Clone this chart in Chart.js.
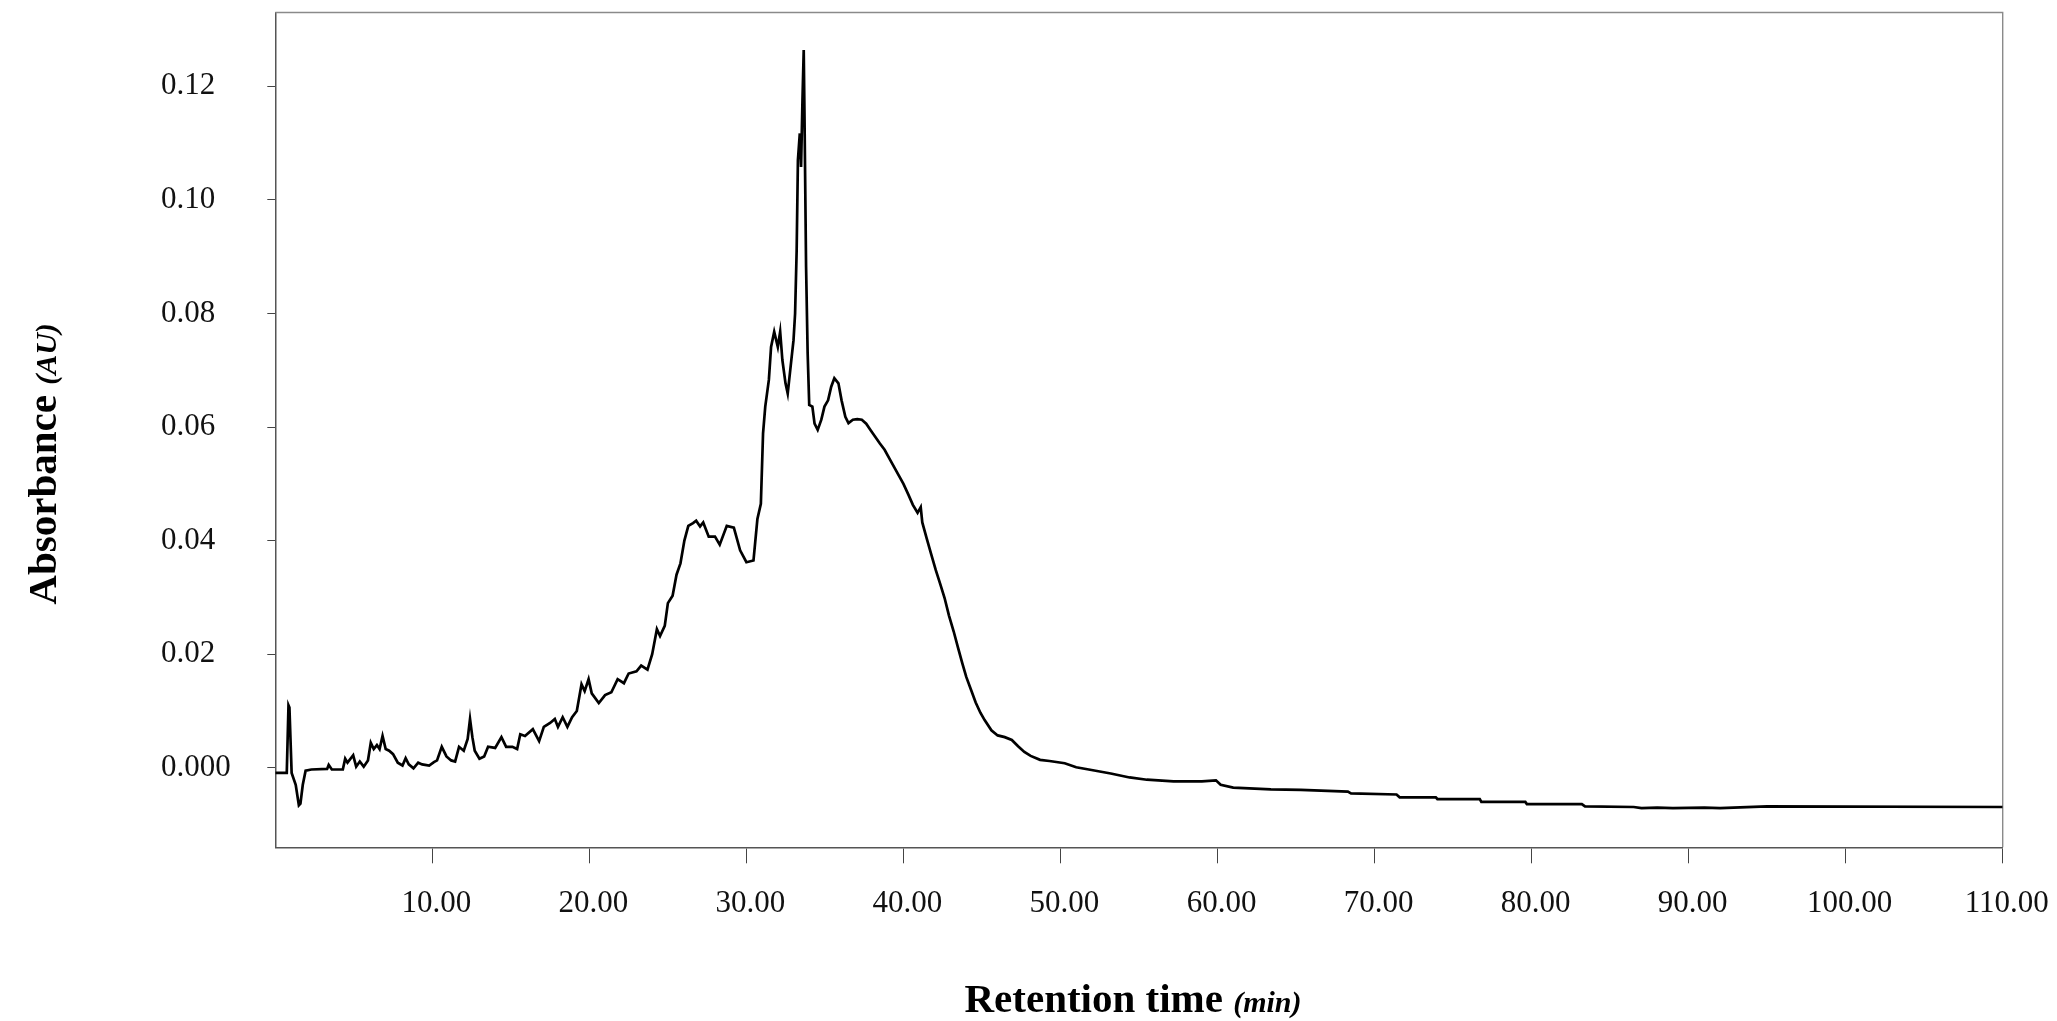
<!DOCTYPE html>
<html lang="en">
<head>
<meta charset="UTF-8">
<title>Absorbance vs retention time</title>
<script src="https://cdn.jsdelivr.net/npm/chart.js@4.4.1/dist/chart.umd.min.js"></script>
<style>
  html, body { margin: 0; padding: 0; background: #ffffff; }
  .chart-wrap { position: relative; width: 2057px; height: 1021px; }
</style>
</head>
<body>
<div class="chart-wrap"><canvas id="chromChart"></canvas></div>
<script>
// 크로마토그램 데이터
const retentionTimes = [
  0.0, 0.73, 0.84, 0.9, 1.04, 1.3, 1.5, 1.6, 1.75, 1.93,
  2.3, 3.3, 3.4, 3.6, 4.3, 4.45, 4.6, 4.96, 5.15, 5.38,
  5.63, 5.9, 6.08, 6.27, 6.47, 6.64, 6.83, 7.03, 7.25, 7.5,
  7.8, 8.1, 8.3, 8.5, 8.8, 9.1, 9.35, 9.8, 10.1, 10.3,
  10.6, 10.9, 11.2, 11.45, 11.7, 12.0, 12.25, 12.4, 12.55, 12.7,
  13.0, 13.3, 13.55, 14.0, 14.4, 14.7, 15.1, 15.4, 15.6, 15.9,
  16.4, 16.8, 17.1, 17.5, 17.8, 18.0, 18.3, 18.6, 18.9, 19.2,
  19.5, 19.7, 19.95, 20.15, 20.6, 21.0, 21.4, 21.8, 22.2, 22.5,
  23.0, 23.3, 23.7, 24.0, 24.3, 24.5, 24.8, 25.0, 25.3, 25.55,
  25.8, 26.05, 26.3, 26.6, 26.8, 27.05, 27.25, 27.6, 28.0, 28.3,
  28.75, 29.2, 29.6, 30.0, 30.45, 30.7, 30.92, 31.06, 31.2, 31.43,
  31.57, 31.77, 32.0, 32.15, 32.29, 32.49, 32.63, 32.86, 33.0, 33.1,
  33.2, 33.28, 33.4, 33.48, 33.57, 33.65, 33.7, 33.8, 33.9, 34.0,
  34.2, 34.34, 34.54, 34.77, 34.97, 35.2, 35.4, 35.6, 35.86, 36.06,
  36.3, 36.5, 36.78, 37.06, 37.35, 37.63, 37.9, 38.2, 38.5, 38.8,
  39.1, 39.4, 39.7, 40.0, 40.3, 40.6, 40.9, 41.1, 41.2, 41.48,
  41.77, 42.06, 42.34, 42.62, 42.9, 43.2, 43.47, 43.75, 44.0, 44.32,
  44.6, 44.9, 45.17, 45.6, 46.0, 46.45, 46.9, 47.3, 47.7, 48.1,
  48.7, 49.3, 50.27, 51.0, 51.8, 53.2, 54.4, 55.5, 57.2, 59.0,
  59.9, 60.2, 61.0, 63.4, 65.3, 68.3, 68.5, 71.4, 71.6, 73.9,
  74.0, 76.7, 76.8, 79.6, 79.7, 83.2, 83.4, 86.5, 87.0, 88.0,
  89.0, 91.0, 92.0, 95.0, 110.0
];

const absorbanceValues = [
  -0.0009, -0.0009, 0.0110, 0.0106, -0.0009, -0.0030, -0.0066, -0.0063, -0.0030, -0.0005,
  -0.0003, -0.0002, 0.0005, -0.0003, -0.0003, 0.0016, 0.0009, 0.0022, 0.0002, 0.0011,
  0.0002, 0.0013, 0.0044, 0.0033, 0.0040, 0.0033, 0.0056, 0.0033, 0.0030, 0.0024,
  0.0009, 0.0004, 0.0017, 0.0006, -0.0001, 0.0009, 0.0006, 0.0004, 0.0010, 0.0013,
  0.0037, 0.0020, 0.0013, 0.0011, 0.0037, 0.0030, 0.0051, 0.0086, 0.0054, 0.0030,
  0.0016, 0.0020, 0.0037, 0.0035, 0.0054, 0.0037, 0.0037, 0.0033, 0.0059, 0.0056,
  0.0068, 0.0047, 0.0072, 0.0079, 0.0086, 0.0072, 0.0089, 0.0072, 0.0089, 0.0100,
  0.0147, 0.0135, 0.0156, 0.0131, 0.0114, 0.0128, 0.0133, 0.0156, 0.0149, 0.0166,
  0.0170, 0.0180, 0.0173, 0.0200, 0.0244, 0.0232, 0.0250, 0.0290, 0.0303, 0.0340,
  0.0360, 0.0400, 0.0426, 0.0431, 0.0435, 0.0425, 0.0432, 0.0407, 0.0407, 0.0393,
  0.0426, 0.0423, 0.0383, 0.0362, 0.0365, 0.0438, 0.0465, 0.0589, 0.0636, 0.0683,
  0.0741, 0.0768, 0.0741, 0.0768, 0.0718, 0.0677, 0.0659, 0.0718, 0.0753, 0.0800,
  0.0911, 0.1070, 0.1117, 0.1058, 0.1176, 0.1264, 0.1146, 0.0882, 0.0730, 0.0639,
  0.0636, 0.0606, 0.0595, 0.0613, 0.0636, 0.0647, 0.0671, 0.0686, 0.0677, 0.0647,
  0.0618, 0.0607, 0.0613, 0.0614, 0.0613, 0.0606, 0.0595, 0.0583, 0.0571, 0.0560,
  0.0545, 0.0530, 0.0515, 0.0500, 0.0482, 0.0463, 0.0449, 0.0459, 0.0432, 0.0404,
  0.0376, 0.0348, 0.0324, 0.0299, 0.0268, 0.0240, 0.0212, 0.0184, 0.0160, 0.0136,
  0.0115, 0.0097, 0.0084, 0.0066, 0.0057, 0.0054, 0.0049, 0.0038, 0.0028, 0.0021,
  0.0014, 0.0012, 0.0008, 0.0001, -0.0003, -0.0010, -0.0017, -0.0021, -0.0024, -0.0024,
  -0.0022, -0.0030, -0.0035, -0.0038, -0.0039, -0.0042, -0.0045, -0.0047, -0.0052, -0.0052,
  -0.0055, -0.0055, -0.0060, -0.0060, -0.0064, -0.0064, -0.0068, -0.0069, -0.0071, -0.0070,
  -0.0071, -0.0070, -0.0071, -0.0068, -0.0069
];

const xTickValues = [10, 20, 30, 40, 50, 60, 70, 80, 90, 100, 110];
const yTickValues = [0, 0.02, 0.04, 0.06, 0.08, 0.10, 0.12];

const serifFont = '"Liberation Serif", "Times New Roman", serif';

// 굵은 제목 + 기울임 단위 한 줄로 그리기
function drawMixedTitle(ctx, mainText, unitText, cx, cy, angle) {
  const mainFont = `bold 41px ${serifFont}`;
  const unitFont = `italic bold 30px ${serifFont}`;
  ctx.font = mainFont;
  const mainWidth = ctx.measureText(mainText).width;
  ctx.font = unitFont;
  const unitWidth = ctx.measureText(unitText).width;

  ctx.save();
  ctx.translate(cx, cy);
  ctx.rotate(angle);
  ctx.textAlign = "left";
  ctx.textBaseline = "alphabetic";
  ctx.fillStyle = "#000000";
  const startX = -(mainWidth + unitWidth) / 2;
  ctx.font = mainFont;
  ctx.fillText(mainText, startX, 0);
  ctx.font = unitFont;
  ctx.fillText(unitText, startX + mainWidth, 0);
  ctx.restore();
}

// 축 제목 플러그인
const axisTitlePlugin = {
  id: "axisTitles",
  afterDraw(chart) {
    const { ctx, chartArea } = chart;
    const midX = (chartArea.left + chartArea.right) / 2;
    const midY = (chartArea.top + chartArea.bottom) / 2 + 34;
    drawMixedTitle(ctx, "Retention time ", "(min)", midX - 6, chart.height - 9, 0);
    drawMixedTitle(ctx, "Absorbance ", "(AU)", 56, midY, -Math.PI / 2);
  }
};

// 위쪽, 오른쪽 테두리
const frameBorderPlugin = {
  id: "frameBorder",
  beforeDatasetsDraw(chart) {
    const { ctx, chartArea } = chart;
    ctx.save();
    ctx.strokeStyle = "#8a8a8a";
    ctx.lineWidth = 1.4;
    ctx.beginPath();
    ctx.moveTo(chartArea.left, chartArea.top);
    ctx.lineTo(chartArea.right, chartArea.top);
    ctx.lineTo(chartArea.right, chartArea.bottom);
    ctx.stroke();
    ctx.restore();
  }
};

function renderChromatogram() {
  const canvas = document.getElementById("chromChart");
  if (!canvas) return;

  const ctx = canvas.getContext("2d");
  const points = retentionTimes.map((t, i) => ({ x: t, y: absorbanceValues[i] }));

  new Chart(ctx, {
    type: "line",
    data: {
      datasets: [{
        data: points,
        borderColor: "#000000",
        borderWidth: 2.7,
        pointRadius: 0,
        tension: 0,
        fill: false
      }]
    },
    options: {
      responsive: true,
      maintainAspectRatio: false,
      animation: false,
      layout: {
        padding: {
          top: 12.5,
          left: 161,
          right: 54.3,
          bottom: 0
        }
      },
      plugins: {
        legend: { display: false },
        tooltip: { enabled: false }
      },
      scales: {
        x: {
          type: "linear",
          min: 0,
          max: 110,
          afterBuildTicks: (scale) => {
            scale.ticks = xTickValues.map((v) => ({ value: v }));
          },
          afterFit: (scale) => {
            scale.height = 173.7;
            scale.paddingLeft = 0;
            scale.paddingRight = 0;
          },
          ticks: {
            color: "#111111",
            font: { family: serifFont, size: 31 },
            padding: 22,
            labelOffset: 4,
            maxRotation: 0,
            minRotation: 0,
            autoSkip: false,
            callback: (v) => Number(v).toFixed(2)
          },
          grid: {
            display: true,
            drawOnChartArea: false,
            drawTicks: true,
            tickLength: 16,
            tickColor: "#444444",
            tickWidth: 1
          },
          border: {
            display: true,
            color: "#555555",
            width: 1.5
          }
        },
        y: {
          type: "linear",
          min: -0.014,
          max: 0.133,
          afterBuildTicks: (scale) => {
            scale.ticks = yTickValues.map((v) => ({ value: v }));
          },
          afterFit: (scale) => {
            scale.width = 114.3;
            scale.paddingTop = 0;
            scale.paddingBottom = 0;
          },
          ticks: {
            color: "#111111",
            font: { family: serifFont, size: 31 },
            crossAlign: "far",
            padding: 10,
            callback: (v) => (v === 0 ? "0.000" : Number(v).toFixed(2))
          },
          grid: {
            display: true,
            drawOnChartArea: false,
            drawTicks: true,
            tickLength: 8,
            tickColor: "#444444",
            tickWidth: 1
          },
          border: {
            display: true,
            color: "#555555",
            width: 1.5
          }
        }
      }
    },
    plugins: [frameBorderPlugin, axisTitlePlugin]
  });
}

renderChromatogram();
</script>
</body>
</html>
